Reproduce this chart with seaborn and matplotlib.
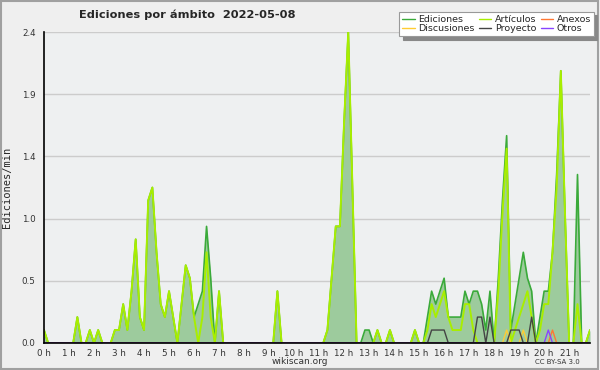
import numpy as np
import pandas as pd
import matplotlib
matplotlib.use("Agg")
import matplotlib.pyplot as plt
import seaborn as sns
from matplotlib.patches import Rectangle
from matplotlib.lines import Line2D

# 10-minute bins from 0:00 to 21:50, values in edits/min
ediciones = [
    0.1, 0, 0, 0, 0, 0, 0, 0, 0.2, 0, 0, 0.1, 0, 0.1, 0, 0, 0, 0.1, 0.1, 0.3,
    0.1, 0.4, 0.8, 0.2, 0.1, 1.1, 1.2, 0.7, 0.3, 0.2, 0.4, 0.2, 0, 0.3, 0.6, 0.5, 0.2, 0.3, 0.4, 0.9,
    0.5, 0, 0.4, 0, 0, 0, 0, 0, 0, 0, 0, 0, 0, 0, 0, 0, 0.4, 0, 0, 0,
    0, 0, 0, 0, 0, 0, 0, 0, 0.1, 0.5, 0.9, 0.9, 1.7, 2.4, 1.2, 0, 0, 0.1, 0.1, 0,
    0.1, 0, 0, 0.1, 0, 0, 0, 0, 0, 0.1, 0, 0, 0.2, 0.4, 0.3, 0.4, 0.5, 0.2, 0.2, 0.2,
    0.2, 0.4, 0.3, 0.4, 0.4, 0.3, 0.1, 0.4, 0, 0.5, 1.1, 1.6, 0.1, 0.3, 0.5, 0.7, 0.5, 0.4, 0, 0.2,
    0.4, 0.4, 0.7, 1.3, 2.1, 1.0, 0, 0, 1.3, 0, 0, 0.1,
]
articulos = [
    0.1, 0, 0, 0, 0, 0, 0, 0, 0.2, 0, 0, 0.1, 0, 0.1, 0, 0, 0, 0.1, 0.1, 0.3,
    0.1, 0.4, 0.8, 0.2, 0.1, 1.1, 1.2, 0.7, 0.3, 0.2, 0.4, 0.2, 0, 0.3, 0.6, 0.5, 0.2, 0, 0.2, 0.7,
    0.2, 0, 0.4, 0, 0, 0, 0, 0, 0, 0, 0, 0, 0, 0, 0, 0, 0.4, 0, 0, 0,
    0, 0, 0, 0, 0, 0, 0, 0, 0.1, 0.5, 0.9, 0.9, 1.7, 2.4, 1.2, 0, 0, 0, 0, 0,
    0.1, 0, 0, 0.1, 0, 0, 0, 0, 0, 0.1, 0, 0, 0.1, 0.3, 0.2, 0.3, 0.4, 0.2, 0.1, 0.1,
    0.1, 0.3, 0.3, 0.1, 0, 0, 0, 0, 0, 0.4, 1.0, 1.5, 0, 0.1, 0.2, 0.3, 0.4, 0.2, 0, 0.1,
    0.3, 0.3, 0.7, 1.2, 2.1, 1.0, 0, 0, 0.3, 0, 0, 0.1,
]
discusiones = [0] * 111 + [0.1, 0, 0, 0, 0.1] + [0] * 16
proyecto = ([0] * 93 + [0.1, 0.1, 0.1, 0.1] + [0] * 7 + [0.2, 0.2, 0, 0.2, 0]
            + [0] * 3 + [0.1, 0.1, 0.1, 0, 0, 0.2] + [0] * 14)
anexos = [0] * 122 + [0.1] + [0] * 9
otros = [0] * 121 + [0.1] + [0] * 10

hour_labels = [f"{h} h" for h in range(22)]
title = "Ediciones por ámbito  2022-05-08"

n = len(ediciones)
t = np.arange(n) / 6.0
df = pd.DataFrame({"t": t, "Ediciones": ediciones, "Artículos": articulos,
                   "Discusiones": discusiones, "Proyecto": proyecto,
                   "Anexos": anexos, "Otros": otros})

sns.set_theme(style="white")
plt.rcParams["font.family"] = ["DejaVu Sans"]

fig = plt.figure(figsize=(6, 3.7), dpi=100, facecolor="#efefef")
ax = fig.add_axes([44 / 600, 27 / 370, 546 / 600, 311 / 370])
ax.set_facecolor("#eef0f1")

ax.fill_between(df["t"], df["Ediciones"], 0, color="#9dcb9d", lw=0, zorder=2)
colors = {"Ediciones": "#3aaa3a", "Artículos": "#a8ee00", "Anexos": "#ff7733",
          "Discusiones": "#ffcc33", "Proyecto": "#444444", "Otros": "#8844ff"}
widths = {"Ediciones": 1.2, "Artículos": 1.4, "Anexos": 1.0,
          "Discusiones": 1.0, "Proyecto": 1.0, "Otros": 1.0}
for name in ["Ediciones", "Artículos", "Discusiones", "Proyecto", "Anexos", "Otros"]:
    sns.lineplot(data=df, x="t", y=name, ax=ax, color=colors[name],
                 lw=widths[name], zorder=3, legend=False)

ymaj = [0, 0.48, 0.96, 1.44, 1.92, 2.4]
ax.set_ylim(0, 2.4)
ax.set_xlim(0, t[-1])
ax.set_yticks(ymaj)
ax.set_yticklabels([f"{v:.1f}" for v in ymaj])
ax.set_yticks(np.arange(0, 2.41, 0.12), minor=True)
ax.set_xticks(range(22))
ax.set_xticklabels(hour_labels)
ax.set_xticks(t, minor=True)
ax.yaxis.grid(True, color="#cccccc", lw=1, zorder=0)
ax.set_axisbelow(True)
for s in ["top", "right"]:
    ax.spines[s].set_visible(False)
for s in ["left", "bottom"]:
    ax.spines[s].set_color("black")
    ax.spines[s].set_linewidth(1.2)
    ax.spines[s].set_zorder(5)
ax.tick_params(axis="both", which="both", direction="out", color="black",
               labelsize=6.3, labelcolor="#333333", width=1)
ax.tick_params(axis="x", which="major", length=4, pad=0)
ax.tick_params(axis="x", which="minor", length=4)
ax.tick_params(axis="y", which="major", length=5, pad=1)
ax.tick_params(axis="y", which="minor", length=3)
ax.set_xlabel("")
ax.set_ylabel("Ediciones/min", family="DejaVu Sans Mono", fontsize=7.5, labelpad=7)

fig.text(187 / 600, 1 - 15 / 370, title, ha="center", va="center",
         fontsize=8.2, fontweight="bold")
fig.text(300 / 600, 1 - 362 / 370, "wikiscan.org", ha="center", va="center",
         fontsize=6.5, color="#333333")
fig.text(557 / 600, 1 - 362 / 370, "CC BY-SA 3.0", ha="center", va="center",
         fontsize=5, color="#333333")

order = ["Ediciones", "Discusiones", "Artículos", "Proyecto", "Anexos", "Otros"]
handles = [Line2D([], [], color=colors[k], lw=1) for k in order]
leg = fig.legend(handles, order, ncol=3, loc="upper right",
                 bbox_to_anchor=(594 / 600, 1 - 12 / 370), fontsize=6.8,
                 frameon=True, fancybox=False, handlelength=1.3,
                 handletextpad=0.4, columnspacing=0.45, labelspacing=0.05,
                 borderpad=0.3, borderaxespad=0,
                 shadow={"ox": 2.5, "oy": -2.5, "color": "#888888", "alpha": 1})
leg.get_frame().set_edgecolor("#999999")
leg.get_frame().set_facecolor("white")
leg.get_frame().set_linewidth(0.8)

fig.patches.append(Rectangle((0.002, 0.003), 0.995, 0.994, transform=fig.transFigure,
                             fill=False, edgecolor="#a0a0a0", lw=1.5))

fig.savefig("out.png", dpi=100, facecolor=fig.get_facecolor())
